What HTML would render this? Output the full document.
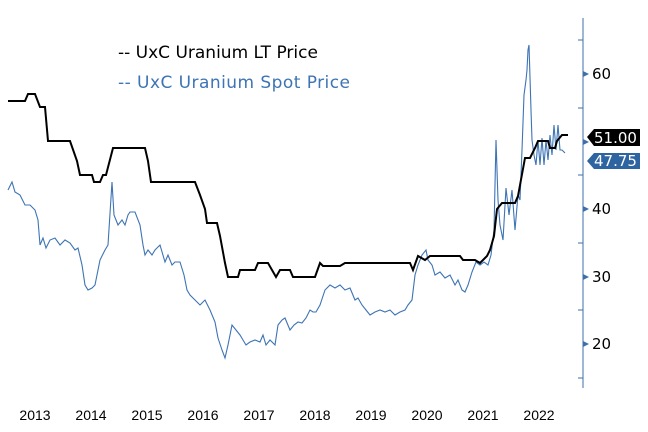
<!DOCTYPE html>
<html><head><style>body{margin:0;background:#fff}svg{display:block}</style></head><body>
<svg width="648" height="432" xmlns="http://www.w3.org/2000/svg" font-family="Liberation Sans, sans-serif">
<rect width="648" height="432" fill="#fff"/>
<line x1="583" y1="18" x2="583" y2="388" stroke="#3d6fa8" stroke-width="1"/>
<g stroke="#3d6fa8" stroke-width="1">
<line x1="578" y1="40" x2="583" y2="40"/><line x1="578" y1="108" x2="583" y2="108"/><line x1="578" y1="175" x2="583" y2="175"/><line x1="578" y1="243" x2="583" y2="243"/><line x1="578" y1="310" x2="583" y2="310"/><line x1="578" y1="378" x2="583" y2="378"/>
</g>
<g fill="#3d6fa8"><polygon points="583,71 589,74 583,77"/><polygon points="583,139 589,142 583,145"/><polygon points="583,206 589,209 583,212"/><polygon points="583,274 589,277 583,280"/><polygon points="583,341 589,344 583,347"/></g>
<g font-size="15" fill="#000" font-family="DejaVu Sans, sans-serif">
<text x="592" y="79">60</text><text x="592" y="214">40</text><text x="592" y="282">30</text><text x="592" y="349">20</text>
</g>
<g font-size="14" fill="#000" text-anchor="middle">
<text x="35" y="420">2013</text><text x="91" y="420">2014</text><text x="147" y="420">2015</text><text x="203" y="420">2016</text><text x="259" y="420">2017</text><text x="315" y="420">2018</text><text x="371" y="420">2019</text><text x="427" y="420">2020</text><text x="483" y="420">2021</text><text x="539" y="420">2022</text>
</g>
<polyline fill="none" stroke="#3d74b4" stroke-width="1.1" points="8,190 12,182 15,192 20,195 25,205 30,205 35,210 38,220 40,245 43,238 46,248 50,240 55,238 60,245 65,240 70,243 75,250 78,248 82,265 85,285 88,290 92,288 95,285 100,260 105,250 108,245 112,182 114,215 118,225 122,220 125,225 128,215 130,212 135,212 140,225 143,245 145,255 148,250 152,255 155,250 160,245 165,262 168,255 172,265 175,262 180,262 184,275 187,290 190,295 195,300 200,305 205,300 210,310 215,322 218,338 222,350 225,358 228,345 232,325 236,330 240,335 243,340 246,345 250,342 255,340 260,342 263,335 266,345 270,340 275,345 278,325 282,320 285,318 290,330 294,325 298,322 302,323 306,318 310,310 313,312 316,312 320,305 325,290 330,285 335,288 340,285 345,290 350,288 355,300 358,298 362,305 366,310 370,315 375,312 380,310 385,312 390,310 395,315 400,312 405,310 408,305 412,300 415,275 418,265 422,255 426,250 428,260 432,265 435,275 440,272 445,278 450,275 455,285 458,280 462,290 465,292 468,285 472,272 476,262 480,265 484,262 488,265 491,255 494,230 496,140 498,200 500,225 503,240 506,188 509,215 512,190 515,230 518,195 520,200 522,150 524,95 526,80 527,70 528,50 529,45 531,110 532,140 534,155 536,165 538,140 540,165 542,138 544,165 546,140 548,160 550,135 552,155 554,125 556,150 558,125 560,150 562,150 565,153"/>
<polyline fill="none" stroke="#000" stroke-width="2" points="8,101 25,101 28,94 35,94 40,107 45,107 48,141 70,141 77,161 80,175 92,175 94,182 100,182 103,175 106,175 113,148 145,148 148,161 151,182 195,182 200,195 205,209 207,223 217,223 220,236 225,263 228,277 238,277 240,270 255,270 258,263 268,263 272,270 276,277 280,270 290,270 293,277 315,277 320,263 323,266 340,266 345,263 410,263 413,270 418,256 425,260 430,256 460,256 463,260 475,260 480,263 487,256 490,250 494,236 497,209 502,203 515,203 518,196 525,158 530,158 535,148 538,141 548,141 550,148 555,148 557,141 562,135 568,135"/>
<polygon points="587,137 594,129 640,129 640,146 594,146" fill="#000"/>
<text x="594" y="143" font-size="15" fill="#fff" font-family="DejaVu Sans, sans-serif">51.00</text>
<polygon points="587,161 594,153 640,153 640,169 594,169" fill="#2e64a0"/>
<text x="594" y="166" font-size="15" fill="#fff" font-family="DejaVu Sans, sans-serif">47.75</text>
<g font-family="DejaVu Sans, sans-serif" font-size="17">
<text x="118" y="58" fill="#000">-- UxC Uranium LT Price</text>
<text x="118" y="88" fill="#3d74b4" textLength="232">-- UxC Uranium Spot Price</text>
</g>
</svg>
</body></html>
